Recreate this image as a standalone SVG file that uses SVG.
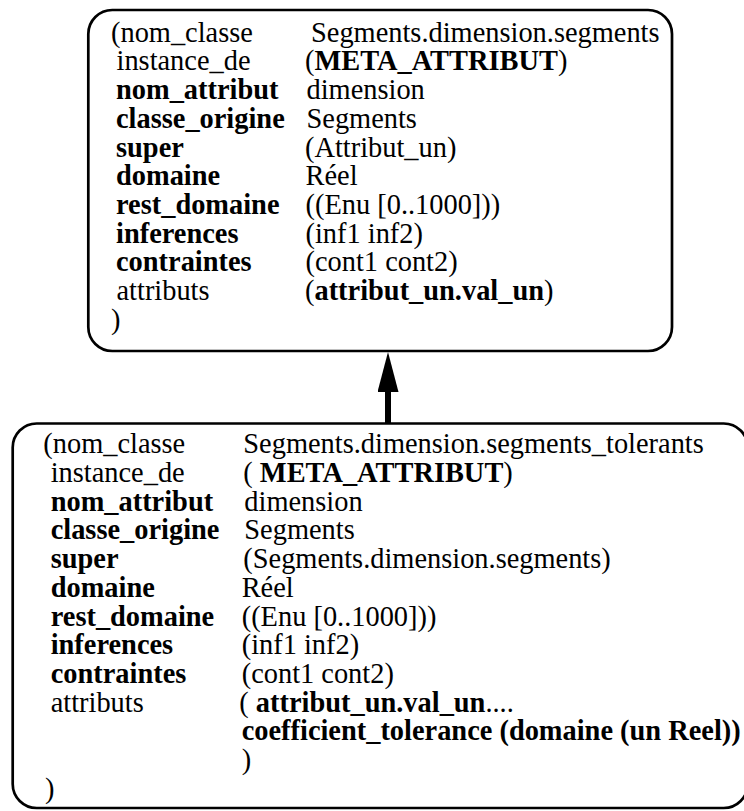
<svg xmlns="http://www.w3.org/2000/svg" width="744" height="811" viewBox="0 0 744 811">
<style>
.box{fill:#fff;stroke:#000;stroke-width:2.7}
.t{font-family:"Liberation Serif","Times New Roman",serif;font-size:28.4px;fill:#000}
.b{font-weight:bold}
.conn{stroke:#000;stroke-width:6;fill:none}
</style>
<defs>
<marker id="arrow" viewBox="0 0 40 21" refX="0" refY="10.5" markerWidth="40" markerHeight="21" markerUnits="userSpaceOnUse" orient="auto">
<path d="M0,0 L40,10.5 L0,21 z" fill="#000"/>
</marker>
</defs>
<rect width="744" height="811" fill="#fff"/>
<g id="node-segments">
<rect class="box" x="88.3" y="10" width="583.7" height="341" rx="24" ry="24"/>
<g class="t">
<text x="111" y="41.7">(nom_classe</text><text x="311" y="41.7">Segments.dimension.segments</text>
<text x="116.5" y="70.4">instance_de</text><text x="305" y="70.4">(<tspan class="b">META_ATTRIBUT</tspan>)</text>
<text class="b" x="116" y="99.1">nom_attribut</text><text x="306.5" y="99.1">dimension</text>
<text class="b" x="116" y="127.8">classe_origine</text><text x="306.5" y="127.8">Segments</text>
<text class="b" x="116" y="156.5">super</text><text x="305" y="156.5">(Attribut_un)</text>
<text class="b" x="116" y="185.2">domaine</text><text x="305.5" y="185.2">Réel</text>
<text class="b" x="116" y="213.9">rest_domaine</text><text x="305.5" y="213.9">((Enu [0..1000]))</text>
<text class="b" x="116" y="242.6">inferences</text><text x="305.5" y="242.6">(inf1 inf2)</text>
<text class="b" x="116" y="271.3">contraintes</text><text x="305.5" y="271.3">(cont1 cont2)</text>
<text x="116.5" y="300">attributs</text><text x="305" y="300">(<tspan class="b">attribut_un.val_un</tspan>)</text>
<text x="111" y="328.7">)</text>
</g>
</g>
<g id="node-segments-tolerants">
<rect class="box" x="12.7" y="423.5" width="735" height="384.5" rx="24" ry="24"/>
<g class="t">
<text x="43.3" y="453.3">(nom_classe</text><text x="243.3" y="453.3">Segments.dimension.segments_tolerants</text>
<text x="50.7" y="482">instance_de</text><text x="243.3" y="482">( <tspan class="b">META_ATTRIBUT</tspan>)</text>
<text class="b" x="50.7" y="510.7">nom_attribut</text><text x="244.3" y="510.7">dimension</text>
<text class="b" x="50.7" y="539.4">classe_origine</text><text x="244.3" y="539.4">Segments</text>
<text class="b" x="50.7" y="568.1">super</text><text x="243.3" y="568.1">(Segments.dimension.segments)</text>
<text class="b" x="50.7" y="596.8">domaine</text><text x="241.7" y="596.8">Réel</text>
<text class="b" x="50.7" y="625.5">rest_domaine</text><text x="241.7" y="625.5">((Enu [0..1000]))</text>
<text class="b" x="50.7" y="654.2">inferences</text><text x="241.7" y="654.2">(inf1 inf2)</text>
<text class="b" x="50.7" y="682.9">contraintes</text><text x="241.7" y="682.9">(cont1 cont2)</text>
<text x="50.7" y="711.6">attributs</text><text x="239.3" y="711.6">( <tspan class="b">attribut_un.val_un</tspan>....</text>
<text class="b" x="241.7" y="740.3">coefficient_tolerance (domaine (un Reel))</text>
<text x="241.7" y="769">)</text>
<text x="45" y="797.7">)</text>
</g>
</g>
<g id="connectors">
<line class="conn" x1="388" y1="423" x2="388" y2="392" marker-end="url(#arrow)"/>
</g>
</svg>
